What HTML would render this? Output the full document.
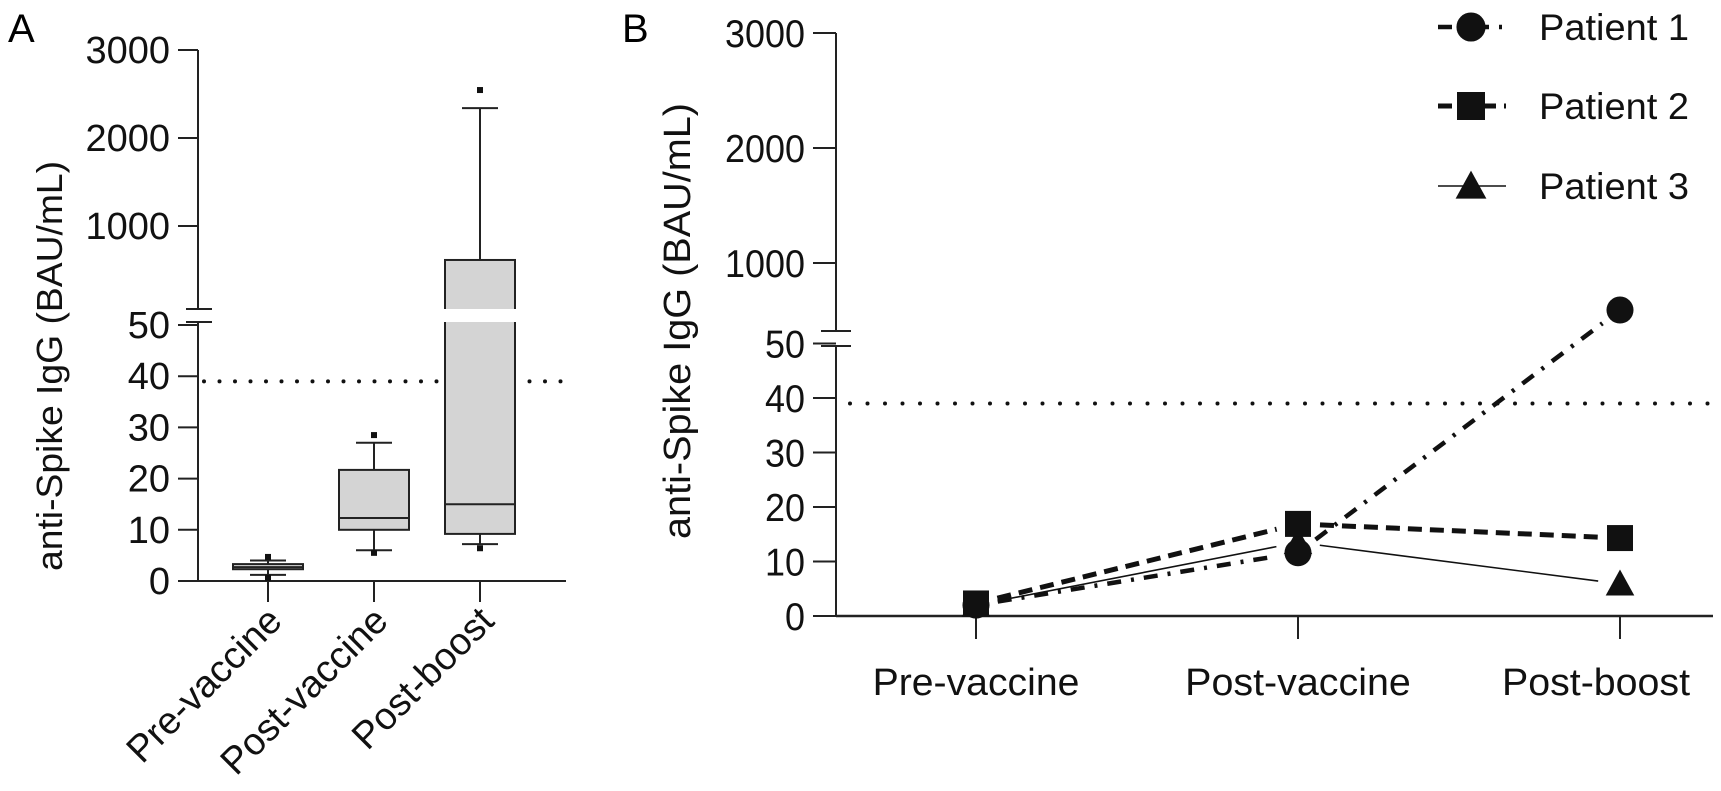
<!DOCTYPE html>
<html><head><meta charset="utf-8"><style>
html,body{margin:0;padding:0;background:#fff;}
svg{display:block;font-family:"Liberation Sans",Arial,sans-serif;}
</style></head><body>
<svg id="chart" width="1721" height="791" viewBox="0 0 1721 791">
<text x="8" y="42" font-size="40">A</text>
<text x="622" y="42" font-size="40">B</text>
<g id="pa"></g>
<g id="pb"></g>
</svg>
<script>
const catsA = ["Pre-vaccine","Post-vaccine","Post-boost"];
const boxMin = [1.2, 6, 7.2];
const boxQ1 = [2.3, 10, 9.2];
const boxMed = [2.7, 12.3, 15];
const boxQ3 = [3.3, 21.7, 614];
const boxMax = [4, 27, 2340];
const outHigh = [4.7, 28.5, 2545];
const outLow = [0.6, 5.5, 6.4];
const ticksLow = [0,10,20,30,40,50];
const ticksHigh = [1000,2000,3000];
const threshold = 39;

const catsB = ["Pre-vaccine","Post-vaccine","Post-boost"];
const patients = ["Patient 1","Patient 2","Patient 3"];
const p1 = [2, 11.6, 591];
const p2 = [2.3, 16.9, 14.3];
const p3 = [2, 13.5, 5.9];

const NS="http://www.w3.org/2000/svg";
function mk(parent, tag, attrs, name, text){
  const e=document.createElementNS(NS,tag);
  for(const k in attrs) e.setAttribute(k,attrs[k]);
  
  
  if(text!==undefined) e.textContent=text;
  parent.appendChild(e); return e;
}
// ---------- Panel A ----------
const A=document.getElementById('pa');
const axA=198, brA1=309, brA2=322, zeroA=581;
function yA(v){ return v<=50 ? zeroA - v*5.12 : 226-(v-1000)*0.088; }
function xA(i){ return 268 + i*106; }
const ln='#222';
mk(A,'line',{x1:axA,y1:50,x2:axA,y2:brA1,stroke:ln,'stroke-width':2},'y-axis-upper');
mk(A,'line',{x1:axA,y1:brA2,x2:axA,y2:zeroA,stroke:ln,'stroke-width':2},'y-axis-lower');
mk(A,'line',{x1:axA-12,y1:brA1,x2:axA+14,y2:brA1,stroke:ln,'stroke-width':2},'axis-break-mark');
mk(A,'line',{x1:axA-12,y1:brA2,x2:axA+14,y2:brA2,stroke:ln,'stroke-width':2},'axis-break-mark');
mk(A,'line',{x1:axA,y1:zeroA,x2:566,y2:zeroA,stroke:ln,'stroke-width':2},'x-axis');
ticksLow.concat(ticksHigh).forEach(v=>{
  const y=yA(v);
  mk(A,'line',{x1:178,y1:y,x2:axA,y2:y,stroke:ln,'stroke-width':2},'y-tick');
  mk(A,'text',{x:170,y:y+13,'font-size':38,'text-anchor':'end',fill:'#111'},'y-tick-label',String(v));
});
mk(A,'text',{transform:'translate(62,366) rotate(-90)','font-size':36,'text-anchor':'middle',fill:'#111',textLength:410,lengthAdjust:'spacingAndGlyphs'},'y-axis-title','anti-Spike IgG (BAU/mL)');
mk(A,'line',{x1:axA+6,y1:yA(threshold),x2:566,y2:yA(threshold),stroke:'#111','stroke-width':4,'stroke-dasharray':'0 15.5','stroke-linecap':'round'},'threshold-line');
catsA.forEach((c,i)=>{
  const x=xA(i), hw=35, cw=18;
  mk(A,'line',{x1:x,y1:zeroA,x2:x,y2:zeroA+21,stroke:ln,'stroke-width':2},'x-tick');
  mk(A,'line',{x1:x,y1:yA(boxMax[i]),x2:x,y2:yA(boxQ3[i]),stroke:ln,'stroke-width':2},'whisker-'+i);
  mk(A,'line',{x1:x,y1:yA(boxQ1[i]),x2:x,y2:yA(boxMin[i]),stroke:ln,'stroke-width':2},'whisker-'+i);
  mk(A,'line',{x1:x-cw,y1:yA(boxMax[i]),x2:x+cw,y2:yA(boxMax[i]),stroke:ln,'stroke-width':2},'whisker-cap');
  mk(A,'line',{x1:x-cw,y1:yA(boxMin[i]),x2:x+cw,y2:yA(boxMin[i]),stroke:ln,'stroke-width':2},'whisker-cap');
  mk(A,'rect',{x:x-hw,y:yA(boxQ3[i]),width:hw*2,height:yA(boxQ1[i])-yA(boxQ3[i]),fill:'#d4d4d4',stroke:ln,'stroke-width':2},'box-'+i);
  mk(A,'line',{x1:x-hw,y1:yA(boxMed[i]),x2:x+hw,y2:yA(boxMed[i]),stroke:ln,'stroke-width':2},'median-'+i);
  if(boxQ3[i]>50 && boxQ1[i]<50){
    mk(A,'rect',{x:x-hw-2,y:brA1,width:hw*2+4,height:brA2-brA1,fill:'#fff'},'box-break-gap');
  }
  mk(A,'rect',{x:x-3,y:yA(outHigh[i])-3,width:6,height:6,fill:'#111'},'outlier');
  mk(A,'rect',{x:x-3,y:yA(outLow[i])-3,width:6,height:6,fill:'#111'},'outlier');
  mk(A,'text',{transform:`translate(${x+16},${zeroA+42}) rotate(-45)`,'font-size':38,'text-anchor':'end',fill:'#111'},'x-tick-label',c);
});
// ---------- Panel B ----------
const B=document.getElementById('pb');
const axB=836, brB1=331, brB2=346, zeroB=616;
function yB(v){ return v<=50 ? zeroB - v*5.45 : 263-(v-1000)*0.115; }
function xB(i){ return 976 + i*322; }
mk(B,'line',{x1:axB,y1:33,x2:axB,y2:brB1,stroke:ln,'stroke-width':2},'y-axis-upper');
mk(B,'line',{x1:axB,y1:brB2,x2:axB,y2:zeroB,stroke:ln,'stroke-width':2},'y-axis-lower');
mk(B,'line',{x1:axB-15,y1:brB1,x2:axB+15,y2:brB1,stroke:ln,'stroke-width':2},'axis-break-mark');
mk(B,'line',{x1:axB-15,y1:brB2,x2:axB+15,y2:brB2,stroke:ln,'stroke-width':2},'axis-break-mark');
mk(B,'line',{x1:axB,y1:zeroB,x2:1713,y2:zeroB,stroke:ln,'stroke-width':2.5},'x-axis');
ticksLow.concat(ticksHigh).forEach(v=>{
  const y=yB(v);
  mk(B,'line',{x1:813,y1:y,x2:axB,y2:y,stroke:ln,'stroke-width':2},'y-tick');
  mk(B,'text',{x:805,y:y+14,'font-size':39,'text-anchor':'end',fill:'#111',textLength:String(v).length*20,lengthAdjust:'spacingAndGlyphs'},'y-tick-label',String(v));
});
mk(B,'text',{transform:'translate(690,321) rotate(-90)','font-size':38,'text-anchor':'middle',fill:'#111',textLength:436,lengthAdjust:'spacingAndGlyphs'},'y-axis-title','anti-Spike IgG (BAU/mL)');
mk(B,'line',{x1:axB+14,y1:yB(threshold),x2:1710,y2:yB(threshold),stroke:'#111','stroke-width':4,'stroke-dasharray':'0 17.5','stroke-linecap':'round'},'threshold-line');
catsB.forEach((c,i)=>{
  const x=xB(i);
  const w=c.length*18.8;
  const cx=Math.min(x, 1690-w/2);
  mk(B,'line',{x1:x,y1:zeroB,x2:x,y2:zeroB+23,stroke:ln,'stroke-width':2},'x-tick');
  mk(B,'text',{x:cx,y:zeroB+79,'font-size':38,'text-anchor':'middle',fill:'#111',textLength:w,lengthAdjust:'spacingAndGlyphs'},'x-tick-label',c);
});
const series=[p1,p2,p3];
const styles=[
  {w:4.5,dash:'14 10 3 10'},
  {w:5,dash:'14 8'},
  {w:1.6,dash:'none'}
];
function seg(g,x1,y1,x2,y2,st,name,gap){
  const dx=x2-x1, dy=y2-y1, L=Math.hypot(dx,dy), ux=dx/L, uy=dy/L;
  mk(g,'line',{x1:x1+ux*gap,y1:y1+uy*gap,x2:x2-ux*gap,y2:y2-uy*gap,stroke:'#111','stroke-width':st.w,'stroke-dasharray':st.dash},name);
}
function marker(g,k,x,y,s,name){
  if(k===0) mk(g,'circle',{cx:x,cy:y,r:s*0.52,fill:'#111'},name);
  else if(k===1) mk(g,'rect',{x:x-s/2,y:y-s/2,width:s,height:s,fill:'#111'},name);
  else mk(g,'polygon',{points:`${x},${y-s*0.55} ${x+s*0.55},${y+s*0.45} ${x-s*0.55},${y+s*0.45}`,fill:'#111'},name);
}
series.forEach((d,k)=>{
  for(let i=0;i<d.length-1;i++){
    seg(B,xB(i),yB(d[i]),xB(i+1),yB(d[i+1]),styles[k],'line-patient-'+(k+1),22);
  }
});
[2,0,1].forEach(k=>{
  const d=series[k];
  d.forEach((v,i)=>marker(B,k,xB(i),yB(v),26,'point-patient-'+(k+1)));
});
// legend
const legY=[27,106,186];
patients.forEach((p,k)=>{
  const y=legY[k];
  seg(B,1438,y,1506,y,styles[k],'legend-line',0);
  marker(B,k,1471,y,28,'legend-marker');
  mk(B,'text',{x:1539,y:y+13,'font-size':37,fill:'#111',textLength:150,lengthAdjust:'spacingAndGlyphs'},'legend-entry',p);
});
</script>
</body></html>
